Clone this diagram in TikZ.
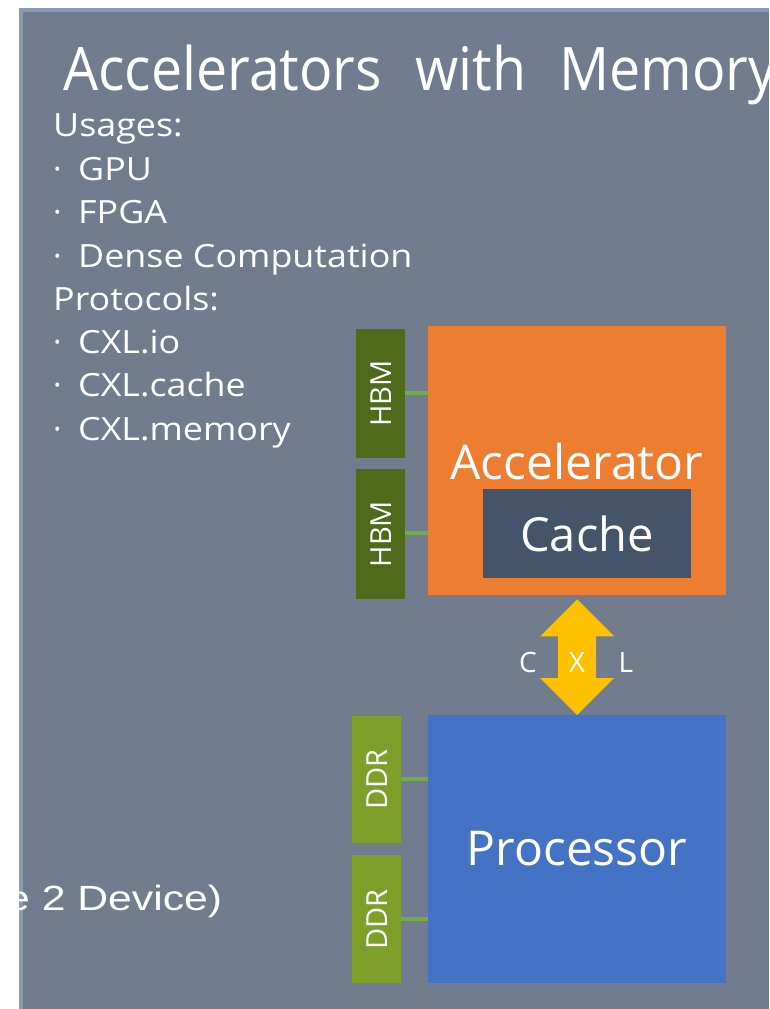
\documentclass[tikz,border=0pt]{standalone}
\usepackage{fontspec}
\setmainfont{Open Sans}
\newfontfamily\arialfont{Liberation Sans}
\usetikzlibrary{calc}
\definecolor{panel}{HTML}{717D8E}
\definecolor{panelborder}{HTML}{8A9AB4}
\definecolor{accorange}{HTML}{ED7D31}
\definecolor{cachegray}{HTML}{44546A}
\definecolor{procblue}{HTML}{4472C4}
\definecolor{hbmgreen}{HTML}{506A1C}
\definecolor{ddrgreen}{HTML}{7E9F2A}
\definecolor{linkgreen}{HTML}{70AD47}
\definecolor{cxlyellow}{HTML}{FFC000}
\newcommand{\fs}[1]{\fontsize{#1}{#1}\selectfont}
\newcommand{\wide}[1]{\scalebox{1.12}[1]{#1}}
\newcommand{\bul}[1]{\makebox[25pt][l]{·}\wide{#1}}
\tikzset{
  blockbox/.style={draw=none, inner sep=0pt, anchor=north west},
  memtext/.style={text=white, font=\fs{29}},
  blocktext/.style={text=white, font=\fs{48}, inner sep=0pt},
  cxltext/.style={text=white, font=\fs{28}, inner sep=0pt},
  listtext/.style={text=white, font=\fs{32}, anchor=base west, inner sep=0pt},
  link/.style={draw=linkgreen, line width=4pt},
}
\begin{document}
\begin{tikzpicture}[x=1pt,y=-1pt]
\useasboundingbox (0,0) rectangle (769,1009);
\fill[white] (0,0) rectangle (769,1009);
\fill[panelborder] (19,8) rectangle (769,1009);
\fill[panel] (23,12) rectangle (769,1009);

% title
\node[text=white, font=\fs{60}, anchor=base west, inner sep=0pt] (title) at (63,90)
  {\scalebox{0.925}[1]{Accelerators\hspace{36pt}with\hspace{36pt}Memory}};

% list
\node[listtext] (l1) at (53,136.5) {\wide{Usages:}};
\node[listtext] (l2) at (53,180) {\bul{GPU}};
\node[listtext] (l3) at (53,223) {\bul{FPGA}};
\node[listtext] (l4) at (53,267) {\bul{Dense Computation}};
\node[listtext] (l5) at (53,310) {\wide{Protocols:}};
\node[listtext] (l6) at (53,353) {\bul{CXL.io}};
\node[listtext] (l7) at (53,396) {\bul{CXL.cache}};
\node[listtext] (l8) at (53,440) {\bul{CXL.memory}};

% accelerator
\node[blockbox, fill=accorange, minimum width=298pt, minimum height=269pt] (accel) at (428,326) {};
\node[blocktext] (acctext) at (577,461) {Accelerator};
\node[blockbox, fill=cachegray, minimum width=208pt, minimum height=89pt] (cache) at (483,489) {};
\node[blocktext, font=\fs{47}] (cachetext) at (587,534) {Cache};

% HBM
\node[blockbox, fill=hbmgreen, minimum width=49pt, minimum height=129pt] (hbm1) at (356,329) {};
\node[memtext, rotate=90] at (hbm1.center) {HBM};
\node[blockbox, fill=hbmgreen, minimum width=49pt, minimum height=130pt] (hbm2) at (356,469) {};
\node[memtext, rotate=90] at (hbm2.center) {HBM};
\draw[link] (hbm1.east |- 0,393) -- (accel.west |- 0,393);
\draw[link] (hbm2.east |- 0,533) -- (accel.west |- 0,533);

% processor
\node[blockbox, fill=procblue, minimum width=298pt, minimum height=268pt] (proc) at (428,715) {};
\node[blocktext] (proctext) at (577,849) {Processor};

% DDR
\node[blockbox, fill=ddrgreen, minimum width=49pt, minimum height=127pt] (ddr1) at (352,716) {};
\node[memtext, rotate=90] at (ddr1.center) {DDR};
\node[blockbox, fill=ddrgreen, minimum width=49pt, minimum height=128pt] (ddr2) at (352,855) {};
\node[memtext, rotate=90] at (ddr2.center) {DDR};
\draw[link] (ddr1.east |- 0,779) -- (proc.west |- 0,779);
\draw[link] (ddr2.east |- 0,919) -- (proc.west |- 0,919);

% CXL double arrow
\coordinate (top) at ($(accel.south)+(0,4)$);
\coordinate (bot) at (proc.north);
\fill[cxlyellow] (top) -- ($(top)+(37,37)$) -- ($(top)+(19,37)$) -- ($(bot)+(19,-37)$) -- ($(bot)+(37,-37)$) -- (bot)
  -- ($(bot)+(-37,-37)$) -- ($(bot)+(-19,-37)$) -- ($(top)+(-19,37)$) -- ($(top)+(-37,37)$) -- cycle;
\node[cxltext] (cxlc) at (528,662) {C};
\node[cxltext] (cxlx) at (577,662) {X};
\node[cxltext] (cxll) at (626,662) {L};

% clipped caption
\node[text=white, font=\arialfont\fs{35}, anchor=base west, inner sep=0pt] (caption) at (6,910)
  {\scalebox{1.22}[1]{e 2 Device)}};
\end{tikzpicture}
\end{document}
